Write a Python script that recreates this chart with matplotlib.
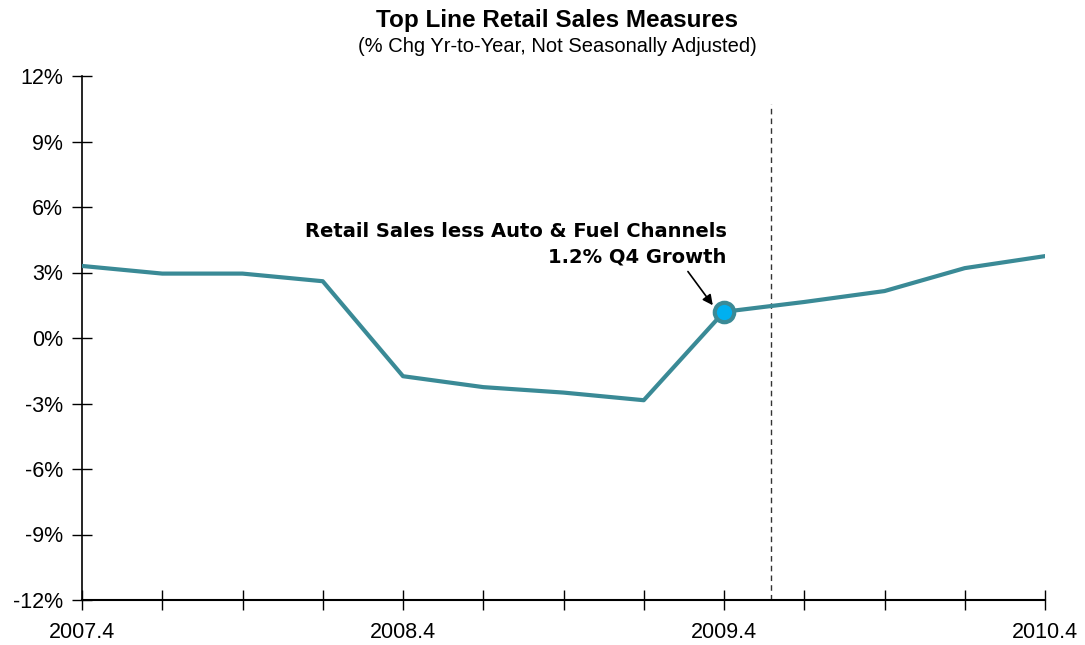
import matplotlib.pyplot as plt
import numpy as np

plt.rcParams['font.family'] = ['Liberation Sans', 'DejaVu Sans']

quarters = ['2007.4', '2008.1', '2008.2', '2008.3', '2008.4', '2009.1', '2009.2',
            '2009.3', '2009.4', '2010.1', '2010.2', '2010.3', '2010.4']
sales = [3.3, 2.95, 2.95, 2.6, -1.75, -2.25, -2.5, -2.85, 1.2, 1.65, 2.15, 3.2, 3.75]
tick_labels = ['2007.4', '', '', '', '2008.4', '', '', '', '2009.4', '', '', '', '2010.4']
yticks = [-12, -9, -6, -3, 0, 3, 6, 9, 12]
forecast_start = 8.58  # dashed line position (quarter index)
highlight = 8

teal = '#3A8A96'

fig = plt.figure(figsize=(10.85, 6.45), dpi=100)
ax = fig.add_axes([82 / 1085, 1 - 600 / 645, (1045 - 82) / 1085, (600 - 76) / 645])

x = np.arange(len(quarters))
ax.plot(x, sales, color=teal, lw=3, solid_joinstyle='round', zorder=3)
ax.plot(x[highlight], sales[highlight], 'o', ms=14, mfc='#00B0F0', mec=teal, mew=3, zorder=4)

ax.plot([forecast_start, forecast_start], [-12, 10.7], color='#333333', lw=1,
        ls=(0, (4, 3)), zorder=2)

ax.annotate('Retail Sales less Auto & Fuel Channels\n1.2% Q4 Growth',
            xy=(x[highlight] - 0.14, sales[highlight] + 0.3),
            xytext=(x[highlight] + 0.03, 4.3),
            ha='right', va='center', fontsize=14, fontweight='bold', linespacing=1.45,
            family='DejaVu Sans',
            arrowprops=dict(arrowstyle='-|>', color='black', lw=1.2, mutation_scale=15,
                            shrinkA=2, shrinkB=0, relpos=(0.9, 0)))

ax.set_xlim(0, len(quarters) - 1)
ax.set_ylim(-12, 12)
ax.set_xticks(x)
ax.set_xticklabels(tick_labels, fontsize=15.5)
ax.set_yticks(yticks)
ax.set_yticklabels([f'{v}%' for v in yticks], fontsize=15.5)

for s in ['top', 'right']:
    ax.spines[s].set_visible(False)
ax.spines['left'].set_linewidth(1.2)
ax.spines['bottom'].set_linewidth(1.5)
ax.tick_params(axis='both', direction='inout', length=15, width=1, colors='black')
ax.tick_params(axis='y', pad=6)
ax.tick_params(axis='x', pad=8)

fig.text(557 / 1085, 1 - 20 / 645, 'Top Line Retail Sales Measures', ha='center', va='center',
         fontsize=17.5, fontweight='bold')
fig.text(557 / 1085, 1 - 47 / 645, '(% Chg Yr-to-Year, Not Seasonally Adjusted)', ha='center',
         va='center', fontsize=14.5)

fig.savefig('out.png', dpi=100, facecolor='white')
